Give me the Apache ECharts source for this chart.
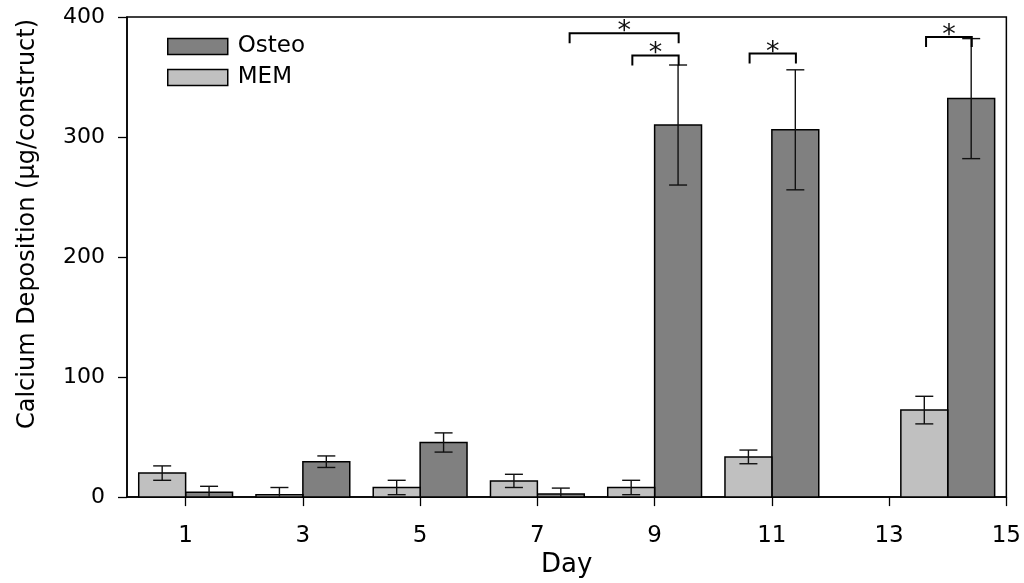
<!DOCTYPE html>
<html>
<head>
<meta charset="utf-8">
<script src="https://cdn.jsdelivr.net/npm/echarts@6/dist/echarts.min.js"></script>
<style>
  html, body { margin: 0; padding: 0; background: #fff; }
  #chart { width: 1024px; height: 583px; }
</style>
</head>
<body>
<div id="chart"></div>
<script>
// data
const days = [1, 3, 5, 7, 9, 11, 14];
const memValues = [20, 2, 8, 13.5, 8, 33.5, 72.5];
const memErrors = [6, 6, 6, 5.5, 6, 5.7, 11.5];
const osteoValues = [4, 29.5, 45.5, 2.5, 310, 306, 332];
const osteoErrors = [5, 4.8, 8, 5, 50, 50, 50];
const dayTicks = [1, 3, 5, 7, 9, 11, 13, 15];
// significance brackets: start day, end day, height
const bracketStart = [7.55, 8.62, 10.62, 13.63];
const bracketEnd = [9.41, 9.41, 11.41, 14.41];
const bracketLevel = [386.5, 368, 369.6, 383.4];

const FONT = 'DejaVu Sans';
const BAR_W = 0.8;

const chart = echarts.init(document.getElementById('chart'));

function barRenderer(side) {
  return function (params, api) {
    const x = api.value(0), v = api.value(1), e = api.value(2);
    const x0 = side < 0 ? x - BAR_W : x;
    const x1 = side < 0 ? x : x + BAR_W;
    const p0 = api.coord([x0, v]);
    const p1 = api.coord([x1, 0]);
    const cx = api.coord([x0 + BAR_W / 2, 0])[0];
    const yTop = api.coord([0, v + e])[1];
    const yBot = api.coord([0, Math.max(0, v - e)])[1];
    const errStyle = { stroke: '#111', lineWidth: 1.4 };
    const children = [
      {
        type: 'rect',
        shape: { x: p0[0], y: p0[1], width: p1[0] - p0[0], height: p1[1] - p0[1] },
        style: { fill: api.visual('color'), stroke: '#000', lineWidth: 1.5 }
      },
      { type: 'line', shape: { x1: cx, y1: yTop, x2: cx, y2: yBot }, style: errStyle },
      { type: 'line', shape: { x1: cx - 9, y1: yTop, x2: cx + 9, y2: yTop }, style: errStyle }
    ];
    if (v - e >= 0) {
      children.push({ type: 'line', shape: { x1: cx - 9, y1: yBot, x2: cx + 9, y2: yBot }, style: errStyle });
    }
    return { type: 'group', children: children };
  };
}

const option = {
  animation: false,
  textStyle: { fontFamily: FONT, color: '#000' },
  grid: {
    left: 127, right: 17, top: 17, bottom: 84,
    show: true, borderColor: '#000', borderWidth: 1.5
  },
  legend: {
    orient: 'vertical',
    left: 162,
    top: 30,
    itemWidth: 60,
    itemHeight: 16,
    itemGap: 8,
    icon: 'rect',
    textStyle: { fontFamily: FONT, fontSize: 23, color: '#000', padding: [0, 0, 0, 5] },
    data: [
      { name: 'Osteo', itemStyle: { color: '#808080', borderColor: '#000', borderWidth: 1.5 } },
      { name: 'MEM', itemStyle: { color: '#c0c0c0', borderColor: '#000', borderWidth: 1.5 } }
    ]
  },
  xAxis: {
    type: 'value',
    min: 0,
    max: 15,
    name: 'Day',
    nameLocation: 'middle',
    nameGap: 53,
    nameTextStyle: { fontFamily: FONT, fontSize: 26, color: '#000' },
    splitLine: { show: false },
    axisLine: { lineStyle: { color: '#000', width: 1.5 } },
    axisTick: { customValues: dayTicks, length: 9, lineStyle: { color: '#000', width: 1.3 } },
    axisLabel: { customValues: dayTicks, margin: 27, fontSize: 23, color: '#000', fontFamily: FONT }
  },
  yAxis: {
    type: 'value',
    min: 0,
    max: 400,
    interval: 100,
    splitLine: { show: false },
    axisLine: { show: true, lineStyle: { color: '#000', width: 1.5 } },
    axisTick: { show: true, length: 9, lineStyle: { color: '#000', width: 1.3 } },
    axisLabel: { margin: 22, fontSize: 22, color: '#000', fontFamily: FONT }
  },
  graphic: [
    {
      type: 'text',
      x: 28,
      y: 224,
      rotation: Math.PI / 2,
      style: {
        text: 'Calcium Deposition (\u00b5g/construct)',
        fontFamily: FONT,
        fontSize: 24,
        fill: '#000',
        align: 'center',
        verticalAlign: 'middle'
      }
    }
  ],
  series: [
    {
      name: 'Osteo',
      type: 'custom',
      itemStyle: { color: '#808080' },
      encode: { x: 0, y: 1 },
      renderItem: barRenderer(1),
      data: days.map((d, i) => [d, osteoValues[i], osteoErrors[i]])
    },
    {
      name: 'MEM',
      type: 'custom',
      itemStyle: { color: '#c0c0c0' },
      encode: { x: 0, y: 1 },
      renderItem: barRenderer(-1),
      data: days.map((d, i) => [d, memValues[i], memErrors[i]])
    },
    {
      name: 'sig',
      type: 'custom',
      encode: { x: [0, 1], y: 2 },
      renderItem: function (params, api) {
        const a = api.coord([api.value(0), api.value(2)]);
        const b = api.coord([api.value(1), api.value(2)]);
        return {
          type: 'group',
          children: [
            {
              type: 'polyline',
              shape: { points: [[a[0], a[1] + 10], [a[0], a[1]], [b[0], b[1]], [b[0], b[1] + 10]] },
              style: { stroke: '#000', lineWidth: 2, fill: null }
            },
            {
              type: 'text',
              x: (a[0] + b[0]) / 2,
              y: a[1] - 1,
              style: {
                text: '*', fontFamily: FONT, fontSize: 27, fill: '#111',
                align: 'center', verticalAlign: 'middle'
              }
            }
          ]
        };
      },
      data: bracketStart.map((s, i) => [s, bracketEnd[i], bracketLevel[i]])
    }
  ]
};

chart.setOption(option);
</script>
</body>
</html>
